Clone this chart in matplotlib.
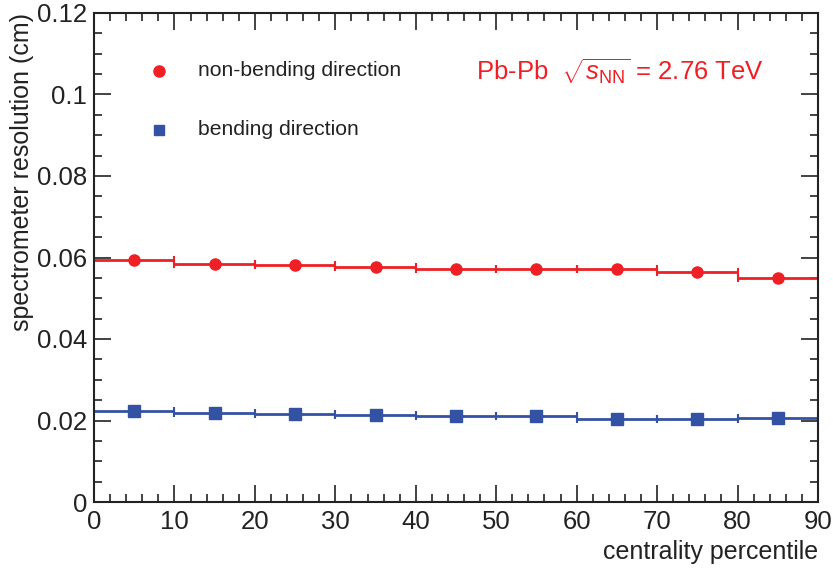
import matplotlib
matplotlib.use("Agg")
import matplotlib.pyplot as plt
from matplotlib.ticker import MultipleLocator

plt.rcParams['font.family'] = ['Liberation Sans', 'DejaVu Sans']
plt.rcParams['mathtext.fontset'] = 'custom'
plt.rcParams['mathtext.rm'] = 'Liberation Sans'
plt.rcParams['mathtext.it'] = 'Liberation Sans:italic'

centrality = [5, 15, 25, 35, 45, 55, 65, 75, 85]
bin_half_width = [5, 5, 5, 5, 5, 5, 5, 5, 5]
non_bending = [0.0593, 0.0584, 0.0582, 0.0576, 0.0572, 0.0571, 0.0571, 0.0564, 0.0550]
bending = [0.0223, 0.0218, 0.0216, 0.0213, 0.0212, 0.0210, 0.0204, 0.0204, 0.0205]

red = '#EE2025'
blue = '#3452A4'
ink = '#222222'

fig = plt.figure(figsize=(8.33, 5.68), dpi=100)
ax = fig.add_axes([94/833, 66/568, 724/833, 489/568])

ax.errorbar(centrality, non_bending, xerr=bin_half_width, fmt='o', color=red,
            ms=8, elinewidth=2, capsize=3, capthick=1.5)
ax.errorbar(centrality, bending, xerr=bin_half_width, fmt='s', color=blue,
            ms=8, elinewidth=2, capsize=3, capthick=1.5)

ax.set_xlim(0, 90)
ax.set_ylim(0, 0.12)
ax.xaxis.set_major_locator(MultipleLocator(10))
ax.xaxis.set_minor_locator(MultipleLocator(2))
ax.yaxis.set_major_locator(MultipleLocator(0.02))
ax.yaxis.set_minor_locator(MultipleLocator(0.005))
ax.tick_params(which='both', direction='in', top=True, right=True, colors=ink,
               labelsize=18.5, width=1.2)
ax.tick_params(which='major', length=12)
ax.tick_params(which='minor', length=6)
ax.tick_params(axis='x', pad=6)
ax.tick_params(axis='y', pad=5)
ax.set_yticks([0, 0.02, 0.04, 0.06, 0.08, 0.1, 0.12])
ax.set_yticklabels(['0', '0.02', '0.04', '0.06', '0.08', '0.1', '0.12'])
for s in ax.spines.values():
    s.set_color(ink)
    s.set_linewidth(1.5)

ax.set_xlabel('centrality percentile', fontsize=18, color=ink, loc='right', labelpad=4)
ax.set_ylabel('spectrometer resolution (cm)', fontsize=18, color=ink, loc='top', labelpad=2)

# legend
ax.plot([8.1], [0.1058], 'o', color=red, ms=8)
ax.plot([8.1], [0.0913], 's', color=blue, ms=7.5)
ax.text(12.9, 0.1058, 'non-bending direction', fontsize=15.2, color=ink, va='center')
ax.text(12.9, 0.0913, 'bending direction', fontsize=15.2, color=ink, va='center')

ax.text(47.5, 0.1055, r'Pb-Pb  $\sqrt{s_{\rm NN}}$ = 2.76 TeV', fontsize=18.5, color=red, va='center')

fig.savefig('out.png', dpi=100)
